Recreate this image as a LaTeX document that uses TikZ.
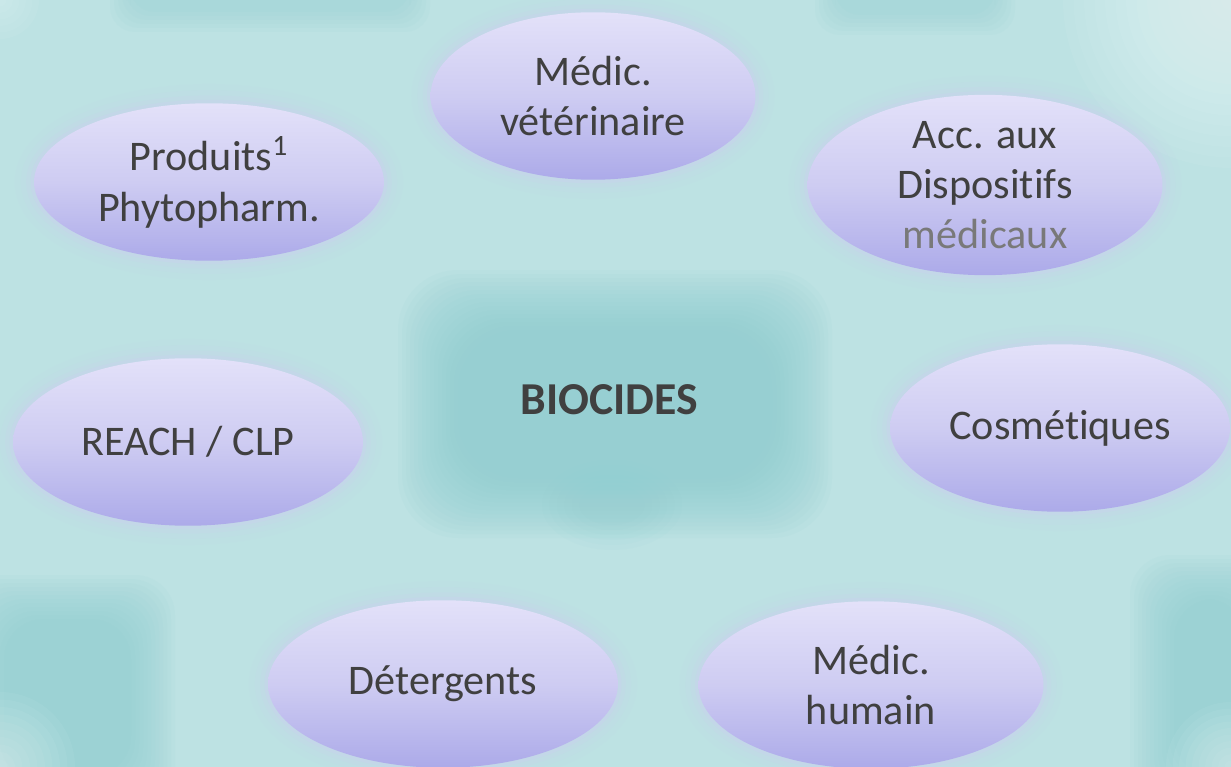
\documentclass[tikz,border=0pt]{standalone}
\usepackage{fontspec}
\setmainfont{Carlito}[Ligatures=NoCommon]
\usepackage{tikz}
\usetikzlibrary{shapes.geometric}

\definecolor{bgteal}{RGB}{189,226,227}
\definecolor{deepteal}{RGB}{143,207,210}
\definecolor{paleteal}{RGB}{240,250,250}
\definecolor{lavtop}{RGB}{227,225,249}
\definecolor{lavmid}{RGB}{206,204,242}
\definecolor{lavbot}{RGB}{172,170,233}
\definecolor{inktext}{RGB}{64,64,64}

\begin{document}
\begin{tikzpicture}[
    x=0.02cm, y=-0.02cm,
    bubble/.style={ellipse, inner sep=0pt, minimum width=7.0cm, minimum height=3.35cm,
      top color=lavtop, bottom color=lavbot, middle color=lavmid,
      preaction={draw=lavmid!70!bgteal, line width=22pt, opacity=0.08},
      preaction={draw=lavmid!70!bgteal, line width=15pt, opacity=0.12},
      preaction={draw=lavmid!80!bgteal, line width=9pt, opacity=0.18},
      preaction={draw=lavmid, line width=4pt, opacity=0.25},
      text=inktext, align=center, font=\fontsize{24}{28.5}\selectfont},
    hub/.style={text=inktext, font=\fontsize{26}{30}\selectfont\bfseries},
    patch/.style={fill=deepteal, opacity=0.08},
    glow/.style={fill=paleteal, opacity=0.06}
  ]
  % background
  \useasboundingbox (0,0) rectangle (1231,767);
  \fill[bgteal] (0,0) rectangle (1231,767);

  % darker patches
  \foreach \k in {0,...,11}
    \fill[patch, rounded corners=0.8cm] (-40+\k*4,575+\k*4) rectangle (175-\k*4,820-\k*4);
  \foreach \k in {0,...,11}
    \fill[patch, rounded corners=0.8cm] (1130+\k*4,555+\k*4) rectangle (1290-\k*4,820-\k*4);
  \foreach \k in {0,...,5}
    \fill[patch, rounded corners=0.5cm] (110+\k*4,-40+\k*4) rectangle (430-\k*4,32-\k*4);
  \foreach \k in {0,...,5}
    \fill[patch, rounded corners=0.5cm] (815+\k*4,-40+\k*4) rectangle (1015-\k*4,35-\k*4);

  % pale corners
  \foreach \k in {1,...,16}
    \fill[glow] (1231,0) circle ({\k*0.21cm});
  \foreach \k in {1,...,10}
    \fill[glow] (0,767) circle ({\k*0.15cm});
  \foreach \k in {1,...,10}
    \fill[glow] (1231,767) circle ({\k*0.13cm});
  \foreach \k in {1,...,6}
    \fill[glow] (0,0) circle ({\k*0.13cm});

  % central patch
  \foreach \k in {0,...,15}
    \fill[patch, rounded corners=1.2cm] (398+\k*4,270+\k*4) rectangle (832-\k*4,538-\k*4);
  \foreach \k in {0,...,5}
    \fill[patch, opacity=0.06] (612,505) ellipse ({1.4cm-\k*0.15cm} and {0.9cm-\k*0.1cm});

  % centre
  \node[hub] (biocides) at (609,400) {BIOCIDES};

  % surrounding fields
  \node[bubble, minimum width=6.5cm] (veto) at (593,96) {Médic.\\vétérinaire};
  \node[bubble, minimum height=3.15cm] (phyto) at (209,182) {Produits\textsuperscript{1}\\Phytopharm.};
  \node[bubble, minimum width=7.1cm, minimum height=3.3cm] (dispo) at (985,185) {Acc. aux\\Disposit\kern0pt ifs\\\textcolor{inktext!70}{médicaux}};
  \node[bubble] (reach) at (188,442) {REACH / CLP};
  \node[bubble, minimum width=6.8cm] (cosme) at (1060,428) {Cosmét\kern0pt iques};
  \node[bubble] (deterg) at (443,684) {Détergents};
  \node[bubble, minimum width=6.9cm] (humain) at (871,685) {Médic.\\humain};
\end{tikzpicture}
\end{document}
